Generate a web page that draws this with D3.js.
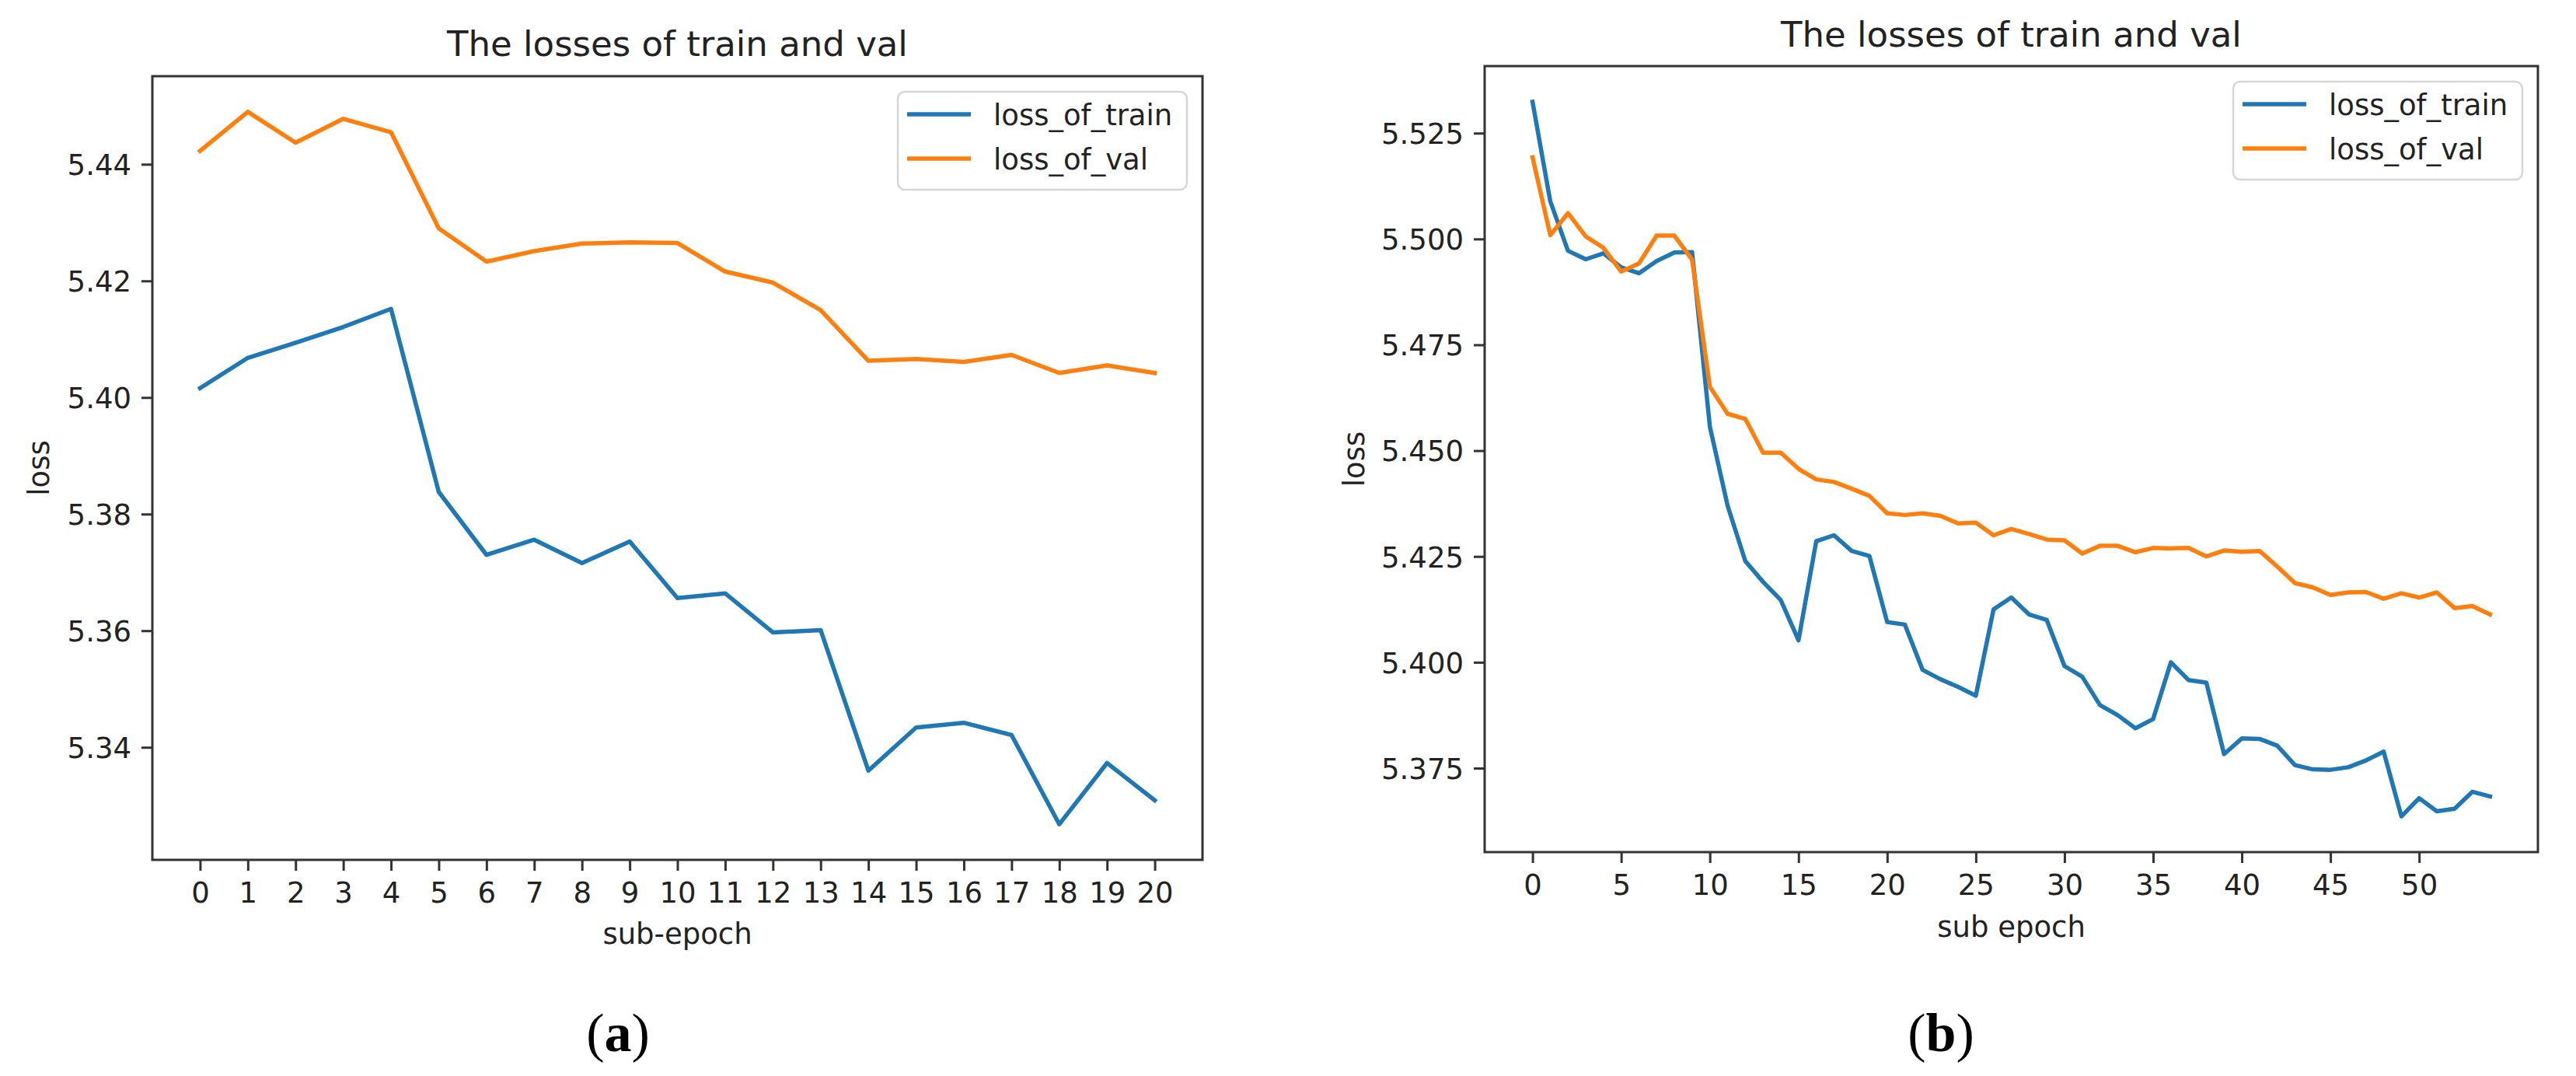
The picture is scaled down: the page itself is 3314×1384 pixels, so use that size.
<!DOCTYPE html>
<html><head><meta charset="utf-8">
<script src="https://cdn.jsdelivr.net/npm/d3@7/dist/d3.min.js"></script>
<style>
body{margin:0;background:#fff}
text{font-family:"DejaVu Sans",sans-serif;fill:#222}
</style>
</head><body>
<svg id="c" width="3314" height="1384"></svg>
<script>
// ---------- data ----------
const seriesNames = ["loss_of_train", "loss_of_val"];
const seriesColors = ["#1f77b4", "#ff7f0e"];

const epochsA = [0,1,2,3,4,5,6,7,8,9,10,11,12,13,14,15,16,17,18,19,20];
const trainA = [5.4016,5.4068,5.4094,5.4121,5.4152,5.3838,5.3730,5.3756,5.3716,5.3753,5.3656,
                5.3664,5.3597,5.3601,5.3360,5.3434,5.3442,5.3421,5.3268,5.3373,5.3309];
const valA   = [5.4423,5.4490,5.4437,5.4478,5.4455,5.4290,5.4233,5.4251,5.4264,5.4266,5.4265,
                5.4216,5.4197,5.4150,5.4063,5.4066,5.4061,5.4073,5.4042,5.4055,5.4042];
const xTicksA = [0,1,2,3,4,5,6,7,8,9,10,11,12,13,14,15,16,17,18,19,20];
const yTicksA = [5.34,5.36,5.38,5.40,5.42,5.44];

const epochsB = [0,1,2,3,4,5,6,7,8,9,10,11,12,13,14,15,16,17,18,19,20,21,22,23,24,25,26,27,
                 28,29,30,31,32,33,34,35,36,37,38,39,40,41,42,43,44,45,46,47,48,49,50,51,52,53,54];
const trainB = [5.5324,5.5089,5.4972,5.4952,5.4966,5.4933,5.4919,5.4948,5.4968,5.4969,
                5.4557,5.4370,5.4239,5.4190,5.4147,5.4052,5.4286,5.4300,5.4263,5.4251,
                5.4095,5.4089,5.3982,5.3960,5.3942,5.3921,5.4125,5.4153,5.4113,5.4100,
                5.3991,5.3966,5.3899,5.3875,5.3844,5.3866,5.4000,5.3958,5.3952,5.3783,
                5.3820,5.3819,5.3803,5.3757,5.3747,5.3746,5.3752,5.3768,5.3789,5.3636,
                5.3679,5.3648,5.3654,5.3694,5.3683];
const valB   = [5.5193,5.5009,5.5061,5.5006,5.4979,5.4923,5.4942,5.5008,5.5008,5.4951,
                5.4651,5.4587,5.4575,5.4495,5.4495,5.4457,5.4432,5.4426,5.4410,5.4393,
                5.4352,5.4348,5.4352,5.4346,5.4328,5.4330,5.4300,5.4315,5.4303,5.4290,
                5.4288,5.4257,5.4275,5.4275,5.4260,5.4270,5.4269,5.4270,5.4250,5.4264,
                5.4261,5.4263,5.4226,5.4187,5.4177,5.4159,5.4165,5.4166,5.4150,5.4163,
                5.4153,5.4165,5.4128,5.4133,5.4113];
const xTicksB = [0,5,10,15,20,25,30,35,40,45,50];
const yTicksB = [5.375,5.400,5.425,5.450,5.475,5.500,5.525];

const titleText = "The losses of train and val";
const yLabelText = "loss";

// ---------- layout ----------
const svg = d3.select("#c");
svg.append("rect").attr("width",3314).attr("height",1384).attr("fill","#fff");

const panels = [
  {x: epochsA, ys: [trainA, valA], xt: xTicksA, yt: yTicksA, yfmt: d3.format(".2f"),
   xlabel: "sub-epoch", caption: "a",
   L:196, R:1547, T:98, B:1106, titleY:72, xlabY:1214, ylabX:63, capX:795},
  {x: epochsB, ys: [trainB, valB], xt: xTicksB, yt: yTicksB, yfmt: d3.format(".3f"),
   xlabel: "sub epoch", caption: "b",
   L:1910, R:3265, T:85, B:1096, titleY:60, xlabY:1205, ylabX:1755, capX:2497}
];

panels.forEach(p => {
  const g = svg.append("g");
  const xExt = d3.extent(p.x), xPad = (xExt[1]-xExt[0])*0.05;
  const all = p.ys.flat();
  const yExt = d3.extent(all), yPad = (yExt[1]-yExt[0])*0.05;
  const x = d3.scaleLinear().domain([xExt[0]-xPad, xExt[1]+xPad]).range([p.L, p.R]);
  const y = d3.scaleLinear().domain([yExt[0]-yPad, yExt[1]+yPad]).range([p.B, p.T]);

  // lines
  const line = d3.line().x((d,i)=>x(p.x[i])).y(d=>y(d));
  p.ys.forEach((s,k)=>{
    g.append("path").datum(s).attr("d", line)
      .attr("fill","none").attr("stroke", seriesColors[k])
      .attr("stroke-width",5.5).attr("stroke-linejoin","round").attr("stroke-linecap","square");
  });

  // axes
  const xa = g.append("g").attr("transform",`translate(0,${p.B})`)
    .call(d3.axisBottom(x).tickValues(p.xt).tickFormat(d3.format("d")).tickSize(14).tickPadding(15));
  const ya = g.append("g").attr("transform",`translate(${p.L},0)`)
    .call(d3.axisLeft(y).tickValues(p.yt).tickFormat(p.yfmt).tickSize(14).tickPadding(13));
  [xa, ya].forEach(a=>{
    a.select(".domain").remove();
    a.selectAll(".tick line").attr("stroke","#333").attr("stroke-width",3);
    a.selectAll(".tick text").attr("fill","#222").style("font-size","37px")
      .style("font-family","'DejaVu Sans',sans-serif");
  });
  ya.selectAll(".tick text").attr("dy","0.36em");

  // frame
  g.append("rect").attr("x",p.L).attr("y",p.T).attr("width",p.R-p.L).attr("height",p.B-p.T)
    .attr("fill","none").attr("stroke","#333").attr("stroke-width",3);

  // title and labels
  g.append("text").attr("x",(p.L+p.R)/2).attr("y",p.titleY).attr("text-anchor","middle")
    .style("font-size","45px").text(titleText);
  g.append("text").attr("x",(p.L+p.R)/2).attr("y",p.xlabY).attr("text-anchor","middle")
    .style("font-size","37px").text(p.xlabel);
  g.append("text").attr("transform",`translate(${p.ylabX},${(p.T+p.B)/2}) rotate(-90)`)
    .attr("text-anchor","middle").style("font-size","37px").text(yLabelText);

  // legend
  const lw = 372, lh = 126, lx = p.R - 20 - lw, ly = p.T + 20;
  const lg = g.append("g").attr("transform",`translate(${lx},${ly})`);
  lg.append("rect").attr("width",lw).attr("height",lh).attr("rx",9)
    .attr("fill","#fff").attr("fill-opacity",0.8).attr("stroke","#d6d6d6").attr("stroke-width",2.5);
  seriesNames.forEach((n,k)=>{
    const cy = 29 + k*57;
    lg.append("line").attr("x1",12).attr("x2",94).attr("y1",cy).attr("y2",cy)
      .attr("stroke",seriesColors[k]).attr("stroke-width",5.5);
    lg.append("text").attr("x",123).attr("y",cy+13.7).style("font-size","37px").text(n);
  });

  // caption
  const cap = svg.append("text").attr("x",p.capX).attr("y",1352).attr("text-anchor","middle")
    .style("font-family","'Liberation Serif','Times New Roman',serif").style("font-size","70px")
    .attr("fill","#000");
  cap.append("tspan").text("(").style("fill","#000");
  cap.append("tspan").text(p.caption).style("font-weight","bold").style("fill","#000");
  cap.append("tspan").text(")").style("fill","#000");
});
</script>
</body></html>
